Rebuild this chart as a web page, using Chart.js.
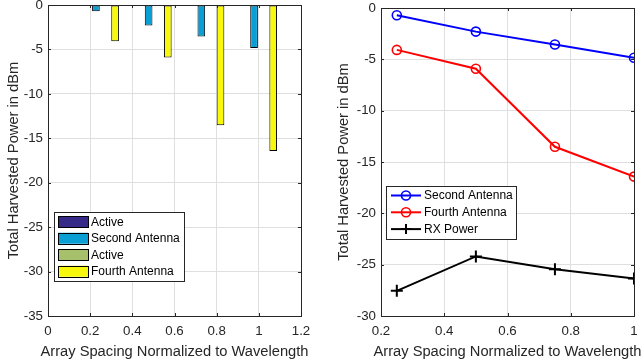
<!DOCTYPE html>
<html><head><meta charset="utf-8">
<script src="https://cdn.jsdelivr.net/npm/chart.js@4.4.1/dist/chart.umd.min.js"></script>
<style>
html,body{margin:0;padding:0;background:#fff;}
#wrap{position:relative;width:644px;height:361px;overflow:hidden;}
canvas{position:absolute;top:0;}
</style></head><body>
<div id="wrap">
<canvas id="c1" width="322" height="361" style="left:0"></canvas>
<canvas id="c2" width="322" height="361" style="left:322px"></canvas>
</div>
<script>
// ---- data ----
const spacing = [0.25, 0.5, 0.75, 1];
const activeA = [0, 0, 0, 0];
const secondAntenna = [-0.7, -2.3, -3.55, -4.85];
const activeB = [0, 0, 0, 0];
const fourthAntenna = [-4.08, -5.92, -13.52, -16.42];
const rxPower = [-27.55, -24.2, -25.45, -26.35];
const barLegend = ['Active', 'Second Antenna', 'Active', 'Fourth Antenna'];
const lineLegend = ['Second Antenna', 'Fourth Antenna', 'RX Power'];
const xTitle = 'Array Spacing Normalized to Wavelength';
const yTitle = 'Total Harvested Power in dBm';

const pts = arr => spacing.map((x, i) => ({x: x, y: arr[i]}));

const FAMILY = '"Liberation Sans", Arial, sans-serif';
Chart.defaults.font.family = FAMILY;
Chart.defaults.color = '#262626';
const AX = '#262626';
const GRID = '#dfdfdf';

// box + inward ticks (MATLAB style) + x-axis title (not squeezed to axis width)
const boxPlugin = {
  id: 'mbox',
  afterDatasetsDraw(chart) {
    const {ctx, chartArea: a, scales} = chart;
    ctx.save();
    ctx.strokeStyle = AX; ctx.lineWidth = 1;
    ctx.beginPath();
    const tl = 3;
    scales.x.ticks.forEach((t, i) => {
      const px = Math.round(scales.x.getPixelForTick(i)) + 0.5;
      ctx.moveTo(px, a.bottom); ctx.lineTo(px, a.bottom - tl);
      ctx.moveTo(px, a.top); ctx.lineTo(px, a.top + tl);
    });
    scales.y.ticks.forEach((t, i) => {
      const py = Math.round(scales.y.getPixelForTick(i)) + 0.5;
      ctx.moveTo(a.left, py); ctx.lineTo(a.left + tl, py);
      ctx.moveTo(a.right, py); ctx.lineTo(a.right - tl, py);
    });
    ctx.stroke();
    ctx.strokeRect(Math.round(a.left) + 0.5, Math.round(a.top) + 0.5,
                   Math.round(a.right - a.left), Math.round(a.bottom - a.top));
    ctx.fillStyle = AX;
    ctx.font = '14.7px ' + FAMILY;
    ctx.textAlign = 'center';
    ctx.textBaseline = 'middle';
    ctx.fillText(xTitle, (a.left + a.right) / 2, a.bottom + 36);
    ctx.restore();
  }
};

// legend drawn inside the plot area
const legendPlugin = {
  id: 'mlegend',
  afterDraw(chart, args, o) {
    if (!o || !o.labels) return;
    const {ctx, chartArea: a} = chart;
    const n = o.labels.length;
    const h = o.pad * 2 + n * o.row;
    const x0 = a.left + o.dx, y0 = a.bottom - o.dy - h;
    ctx.save();
    ctx.fillStyle = '#fff';
    ctx.fillRect(x0, y0, o.w, h);
    ctx.strokeStyle = AX; ctx.lineWidth = 1;
    ctx.strokeRect(Math.round(x0) + 0.5, Math.round(y0) + 0.5, o.w, Math.round(h));
    ctx.font = '12px ' + FAMILY;
    ctx.textBaseline = 'middle';
    o.labels.forEach((lab, i) => {
      const ds = chart.data.datasets[i];
      const cy = y0 + o.pad + o.row * (i + 0.5);
      if (o.kind === 'bar') {
        ctx.fillStyle = ds.backgroundColor;
        ctx.fillRect(x0 + 4, cy - 5.5, 30, 11);
        ctx.strokeStyle = '#000';
        ctx.strokeRect(Math.round(x0 + 4) + 0.5, Math.round(cy - 5.5) + 0.5, 30, 11);
      } else {
        ctx.strokeStyle = ds.borderColor; ctx.lineWidth = 2;
        ctx.beginPath(); ctx.moveTo(x0 + 5, cy); ctx.lineTo(x0 + 35, cy); ctx.stroke();
        const mx = x0 + 20;
        ctx.beginPath();
        if (ds.pointStyle === 'cross') {
          ctx.moveTo(mx - 5, cy); ctx.lineTo(mx + 5, cy);
          ctx.moveTo(mx, cy - 5); ctx.lineTo(mx, cy + 5);
        } else {
          ctx.lineWidth = 1.6;
          ctx.arc(mx, cy, 4.5, 0, Math.PI * 2);
        }
        ctx.stroke();
      }
      ctx.fillStyle = '#000';
      ctx.fillText(lab, x0 + o.tx, cy + 0.5);
    });
    ctx.restore();
  }
};

const fmt = v => String(Math.round(v * 10) / 10);

function yAxis(min, max, w, titlePad) {
  return {
    type: 'linear', min: min, max: max,
    ticks: {stepSize: 5, padding: 5, color: AX, font: {size: 13.3}, callback: fmt},
    grid: {color: GRID, drawTicks: false},
    border: {display: false},
    title: {display: true, text: yTitle, color: AX, font: {size: 14.7}, padding: {top: titlePad, bottom: 0}},
    afterFit(s) { s.width = w; s.paddingTop = 0; s.paddingBottom = 0; }
  };
}
function xAxis(min, max) {
  return {
    type: 'linear', min: min, max: max, offset: false,
    ticks: {stepSize: 0.2, padding: 7, color: AX, font: {size: 13.3}, autoSkip: false, maxRotation: 0, callback: fmt},
    grid: {color: GRID, drawTicks: false, offset: false},
    border: {display: false},
    title: {display: false},
    afterFit(s) { s.height = 45; s.paddingLeft = 0; s.paddingRight = 0; }
  };
}

// ---- left: grouped bars ----
const barColors = ['#352a87', '#0a9fd4', '#a6c06b', '#f8f80c'];
const barSeries = [activeA, secondAntenna, activeB, fourthAntenna];
new Chart(document.getElementById('c1'), {
  type: 'bar',
  data: {
    datasets: barSeries.map((s, i) => ({
      label: barLegend[i], data: pts(s),
      backgroundColor: barColors[i], borderColor: '#000', borderWidth: 1, borderSkipped: false,
      categoryPercentage: 0.909, barPercentage: 0.8
    }))
  },
  options: {
    responsive: false, animation: false, devicePixelRatio: 1,
    layout: {padding: {top: 5, right: 21, left: 0, bottom: 0}},
    scales: {x: xAxis(0, 1.2), y: yAxis(-35, 0, 48, 5)},
    plugins: {
      legend: {display: false}, tooltip: {enabled: false},
      mlegend: {kind: 'bar', labels: barLegend, dx: 6, dy: 35, w: 130, pad: 1.5, row: 16.5, tx: 37}
    }
  },
  plugins: [boxPlugin, legendPlugin]
});

// ---- right: lines ----
const lineColors = ['#0000ff', '#ff0000', '#000000'];
const lineSeries = [secondAntenna, fourthAntenna, rxPower];
new Chart(document.getElementById('c2'), {
  type: 'line',
  data: {
    datasets: lineSeries.map((s, i) => ({
      label: lineLegend[i], data: pts(s),
      borderColor: lineColors[i], backgroundColor: 'rgba(0,0,0,0)',
      borderWidth: 2, tension: 0,
      pointStyle: i === 2 ? 'cross' : 'circle',
      pointRadius: i === 2 ? 6 : 4.5, pointBorderWidth: i === 2 ? 2 : 1.6,
      pointBackgroundColor: 'rgba(0,0,0,0)', pointBorderColor: lineColors[i]
    }))
  },
  options: {
    responsive: false, animation: false, devicePixelRatio: 1,
    layout: {padding: {top: 5, right: 10, left: 0, bottom: 0}},
    scales: {x: xAxis(0.2, 1), y: yAxis(-30, 0, 59, 13)},
    plugins: {
      legend: {display: false}, tooltip: {enabled: false},
      mlegend: {kind: 'line', labels: lineLegend, dx: 5, dy: 77, w: 130, pad: 1.5, row: 16.8, tx: 38}
    }
  },
  plugins: [boxPlugin, legendPlugin]
});
</script>
</body></html>
